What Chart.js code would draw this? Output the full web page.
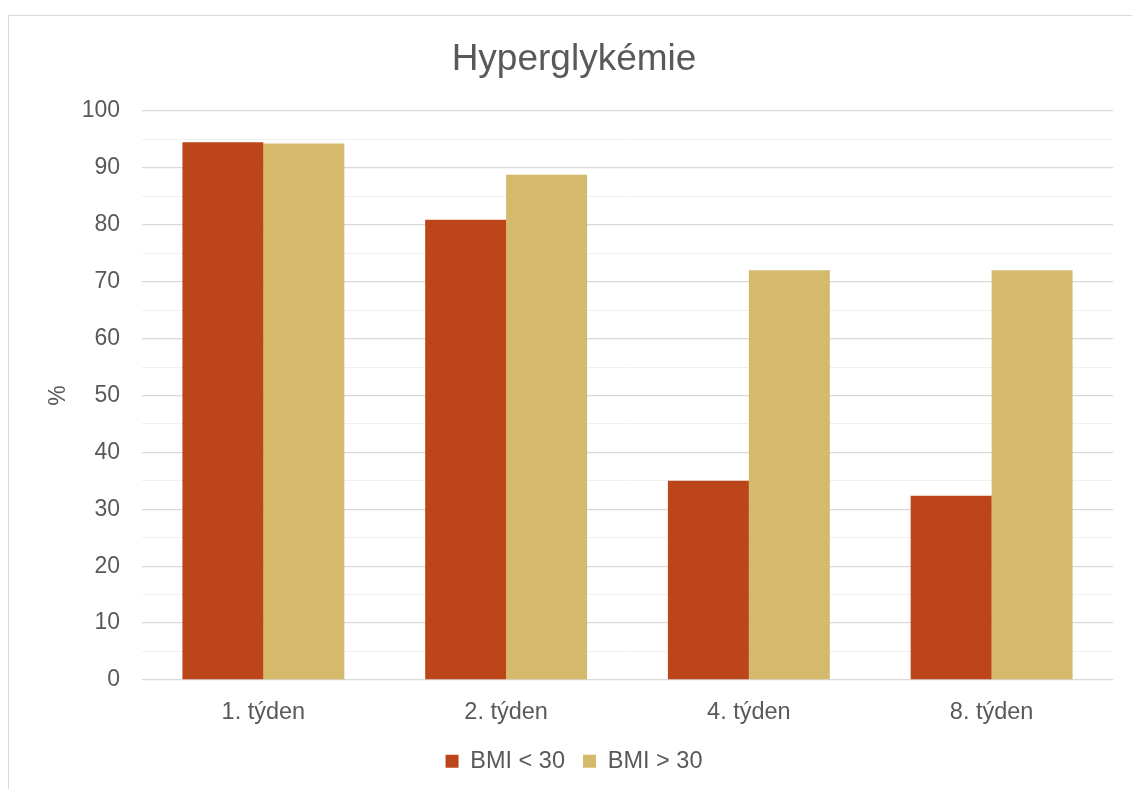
<!DOCTYPE html>
<html lang="cs">
<head>
<meta charset="utf-8">
<title>Hyperglykémie</title>
<script src="https://cdn.jsdelivr.net/npm/chart.js@4/dist/chart.umd.min.js"></script>
<style>
  html, body { margin: 0; padding: 0; background: #ffffff; }
  #wrap { position: relative; width: 1132px; height: 789px; }
</style>
</head>
<body>
<div id="wrap"><canvas id="chart" width="1132" height="789"></canvas></div>
<script>
// Hyperglycaemia rate (%) by week, split by BMI group
const categories = ['1. týden', '2. týden', '4. týden', '8. týden'];
const bmiUnder30 = [94.5, 80.9, 35.0, 32.4];
const bmiOver30 = [94.3, 88.8, 72.0, 72.0];
const seriesNames = ['BMI < 30', 'BMI > 30'];
const yTicks = { min: 0, max: 100, major: 10, minor: 5 };

const FONT = "'Liberation Sans', Arial, sans-serif";
const TEXT = '#595959';

// Light frame around the chart, plus a white background
const framePlugin = {
  id: 'frame',
  beforeDraw(chart) {
    const { ctx, width, height } = chart;
    ctx.save();
    ctx.fillStyle = '#ffffff';
    ctx.fillRect(0, 0, width, height);
    ctx.strokeStyle = '#D9D9D9';
    ctx.lineWidth = 1;
    ctx.beginPath();
    ctx.moveTo(8.5, height);
    ctx.lineTo(8.5, 15.5);
    ctx.lineTo(width, 15.5);
    ctx.stroke();
    ctx.restore();
  }
};

new Chart(document.getElementById('chart'), {
  type: 'bar',
  data: {
    labels: categories,
    datasets: [
      { label: seriesNames[0], data: bmiUnder30, backgroundColor: '#BC4619', borderWidth: 0 },
      { label: seriesNames[1], data: bmiOver30, backgroundColor: '#D4BA6A', borderWidth: 0 }
    ]
  },
  options: {
    responsive: false,
    animation: false,
    devicePixelRatio: 1,
    datasets: { bar: { categoryPercentage: 0.667, barPercentage: 1.0 } },
    layout: { padding: { left: 16, right: 0, top: 0, bottom: 6 } },
    plugins: {
      title: {
        display: true,
        text: 'Hyperglykémie',
        color: TEXT,
        font: { family: FONT, size: 37, weight: 'normal' },
        padding: { top: 37.8, bottom: 28.8 }
      },
      legend: {
        position: 'bottom',
        labels: {
          color: TEXT,
          font: { family: FONT, size: 23.5 },
          boxWidth: 13,
          boxHeight: 13,
          padding: 18
        }
      },
      tooltip: { enabled: false }
    },
    scales: {
      x: {
        grid: { display: false },
        border: { display: false },
        ticks: { color: TEXT, font: { family: FONT, size: 23.5 }, padding: 10 },
        afterFit(scale) { scale.height = 51.5; }
      },
      y: {
        min: yTicks.min,
        max: yTicks.max,
        border: { display: false },
        grid: {
          drawTicks: false,
          color: (c) => (c.tick && c.tick.value % yTicks.major === 0) ? '#D9D9D9' : '#F0F0F0',
          lineWidth: (c) => (c.tick && c.tick.value % yTicks.major === 0) ? 1.3 : 1
        },
        ticks: {
          stepSize: yTicks.minor,
          maxTicksLimit: 30,
          color: TEXT,
          font: { family: FONT, size: 23, lineHeight: 1 },
          padding: 22,
          callback: (v) => (v % yTicks.major === 0 ? v : '')
        },
        title: {
          display: true,
          text: '%',
          color: TEXT,
          font: { family: FONT, size: 23 },
          padding: { top: 29, bottom: 0 }
        },
        afterFit(scale) { scale.width = 126; }
      },
      yRight: {
        type: 'linear',
        position: 'right',
        display: true,
        grid: { display: false },
        border: { display: false },
        ticks: { display: false },
        afterFit(scale) { scale.width = 19; }
      }
    }
  },
  plugins: [framePlugin]
});
</script>
</body>
</html>
